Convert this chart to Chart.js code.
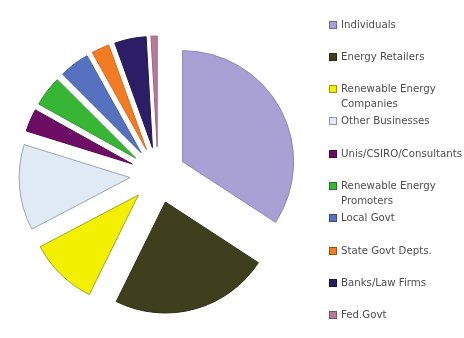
<!DOCTYPE html>
<html>
<head>
<meta charset="utf-8">
<script src="https://cdn.jsdelivr.net/npm/chart.js@4.4.0/dist/chart.umd.min.js"></script>
<style>
  html, body { margin: 0; padding: 0; background: #fff; overflow: hidden; }
  #wrap { position: relative; width: 464px; height: 338px; }
  #legend { position: absolute; left: 329px; top: 0; width: 135px; height: 338px;
            font: 10.2px "DejaVu Sans", sans-serif; color: #4d4d4d; overflow: hidden; white-space: nowrap; }
  .item { position: absolute; left: 0; line-height: 15px; }
  .box { position: absolute; left: 0; top: 4px; width: 6px; height: 6px; border: 1px solid rgba(0,0,0,0.35); }
  .txt { position: absolute; left: 12px; top: 0; }
</style>
</head>
<body>
<div id="wrap">
  <canvas id="pieChart" width="464" height="338"></canvas>
  <div id="legend"></div>
</div>
<script>
// Categorias y porcentajes
const categories = [
  'Individuals',
  'Energy Retailers',
  ['Renewable Energy', 'Companies'],
  'Other Businesses',
  'Unis/CSIRO/Consultants',
  ['Renewable Energy', 'Promoters'],
  'Local Govt',
  'State Govt Depts.',
  'Banks/Law Firms',
  'Fed.Govt'
];
const shares = [34.2, 23.1, 10.0, 12.5, 3.3, 4.4, 4.4, 2.6, 4.6, 0.9];

const fillColors = ['#a9a1d4', '#3f3f1d', '#f2ef00', '#e0eaf5', '#6c0c62',
                    '#37b535', '#5671c0', '#f27b24', '#2c1e66', '#b87a98'];
const edgeColors = ['#8c84bd', '#2f2f16', '#a3a032', '#9ca3b3', '#5a0a52',
                    '#2c962b', '#4760a8', '#d66a1c', '#22174f', '#9c6580'];

// Mantiene el mismo radio y angulo en todas las porciones separadas
const evenRadius = {
  id: 'evenRadius',
  afterDatasetUpdate(chart, args) {
    const meta = args.meta;
    const R = meta.controller.outerRadius;
    meta.data.forEach(arc => {
      const t = (arc.options.offset || 0) / 4;
      const fix = 1 - Math.sin(Math.min(Math.PI, arc.circumference));
      const o = t * fix;
      arc.outerRadius = R - o;
      const widen = o / (2 * Math.PI * R);
      arc.startAngle -= widen;
      arc.endAngle += widen;
    });
  }
};

const ctx = document.getElementById('pieChart').getContext('2d');
const pieChart = new Chart(ctx, {
  type: 'pie',
  data: {
    labels: categories,
    datasets: [{
      data: shares,
      backgroundColor: fillColors,
      borderColor: edgeColors,
      borderWidth: 1,
      offset: 112,
      radius: 111
    }]
  },
  options: {
    responsive: false,
    animation: false,
    layout: { padding: { left: 0, right: 148, top: 12, bottom: 0 } },
    plugins: {
      legend: { display: false },
      tooltip: { enabled: false }
    }
  },
  plugins: [evenRadius]
});

// Leyenda a la derecha
const legend = document.getElementById('legend');
categories.forEach((label, i) => {
  const item = document.createElement('div');
  item.className = 'item';
  item.style.top = (24 + i * 32.3 - 7.5) + 'px';
  const box = document.createElement('div');
  box.className = 'box';
  box.style.background = fillColors[i];
  const txt = document.createElement('div');
  txt.className = 'txt';
  txt.innerHTML = Array.isArray(label) ? label.join('<br>') : label;
  item.appendChild(box);
  item.appendChild(txt);
  legend.appendChild(item);
});
</script>
</body>
</html>
